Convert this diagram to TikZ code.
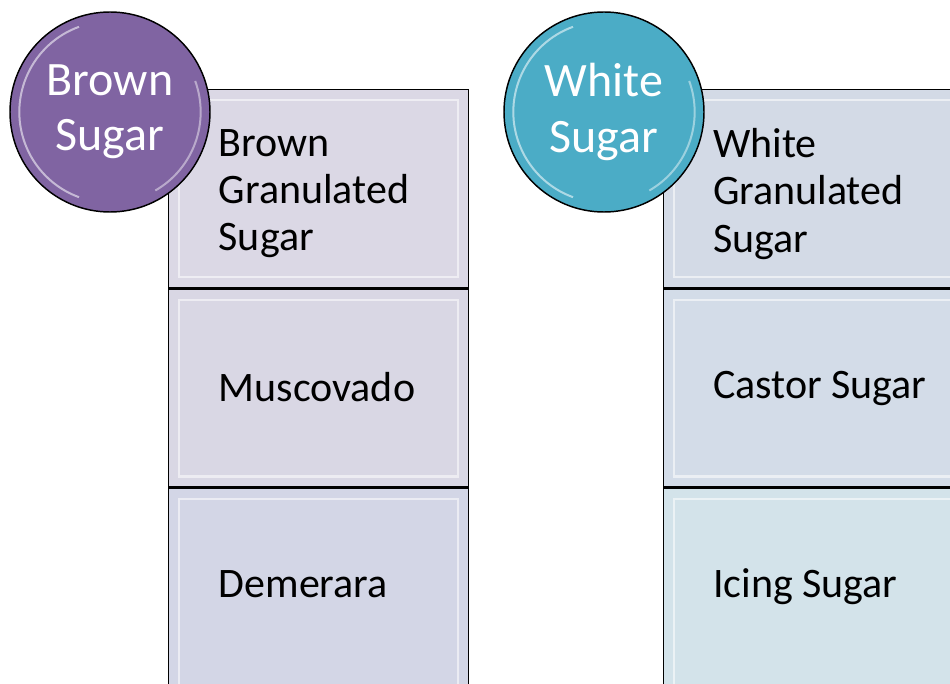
\documentclass[tikz,border=0pt]{standalone}
\usepackage{fontspec}
\setmainfont{Carlito}
\usepackage{tikz}
\usetikzlibrary{positioning}
\definecolor{HeadPurple}{HTML}{8064A2}
\definecolor{HeadTeal}{HTML}{4BACC6}
\definecolor{BoxLilacA}{HTML}{DBD8E5}
\definecolor{BoxLilacB}{HTML}{D9D7E4}
\definecolor{BoxLilacC}{HTML}{D3D6E6}
\definecolor{BoxBlueA}{HTML}{D3DAE6}
\definecolor{BoxBlueB}{HTML}{D3DCE8}
\definecolor{BoxBlueC}{HTML}{D3E3EA}

\begin{document}
\begin{tikzpicture}[x=0.75pt,y=-0.75pt,
    itembox/.style={draw=black, line width=1.1pt, minimum width=225pt,
      minimum height=148.5pt, inner sep=0pt,
      path picture={\draw[white, opacity=.55, line width=1.6pt]
        ([shift={(8pt,8pt)}]path picture bounding box.south west) rectangle
        ([shift={(-8pt,-8pt)}]path picture bounding box.north east);}},
    itemtext/.style={anchor=west, align=left, text=black,
      font=\fontsize{31.5}{35.6}\selectfont},
    headcircle/.style={circle, draw=black, line width=1.1pt, minimum size=150pt,
      inner sep=0pt, align=center, text=white,
      font=\fontsize{36}{41.5}\selectfont,
      path picture={\draw[white, opacity=.55, line width=1.5pt]
        (path picture bounding box.center) ++(110:68pt)
        arc[start angle=110, end angle=250, radius=68pt];
        \draw[white, opacity=.45, line width=1.5pt]
        (path picture bounding box.center) ++(-60:68pt)
        arc[start angle=-60, end angle=20, radius=68pt];}}]
  \useasboundingbox (0,0) rectangle (950,684);
  \clip (0,0) rectangle (950,684);

  \node[itembox, fill=BoxLilacA, anchor=north west] (brownA) at (168,89) {};
  \node[itembox, fill=BoxLilacB, below=0pt of brownA] (brownB) {};
  \node[itembox, fill=BoxLilacC, below=0pt of brownB, minimum height=160pt] (brownC) {};

  \node[itembox, fill=BoxBlueA, anchor=north west] (whiteA) at (663,89) {};
  \node[itembox, fill=BoxBlueB, below=0pt of whiteA] (whiteB) {};
  \node[itembox, fill=BoxBlueC, below=0pt of whiteB, minimum height=160pt] (whiteC) {};

  \node[itemtext] (brownAt) at ([shift={(34.5pt,-78.5pt)}]brownA.north west) {Brown\\Granulated\\Sugar};
  \node[itemtext] (brownBt) at ([shift={(34.5pt,-74pt)}]brownB.north west) {Muscovado};
  \node[itemtext] (brownCt) at ([shift={(34.5pt,-72pt)}]brownC.north west) {Demerara};

  \node[itemtext] (whiteAt) at ([shift={(34pt,-78.5pt)}]whiteA.north west) {White\\Granulated\\Sugar};
  \node[itemtext] (whiteBt) at ([shift={(34pt,-75pt)}]whiteB.north west) {Castor Sugar};
  \node[itemtext] (whiteCt) at ([shift={(34pt,-74pt)}]whiteC.north west) {Icing Sugar};

  \node[headcircle, fill=HeadPurple] (brownhead) at (110,112) {Brown\\Sugar};
  \node[headcircle, fill=HeadTeal] (whitehead) at (604,112) {White\\Sugar};
\end{tikzpicture}
\end{document}
